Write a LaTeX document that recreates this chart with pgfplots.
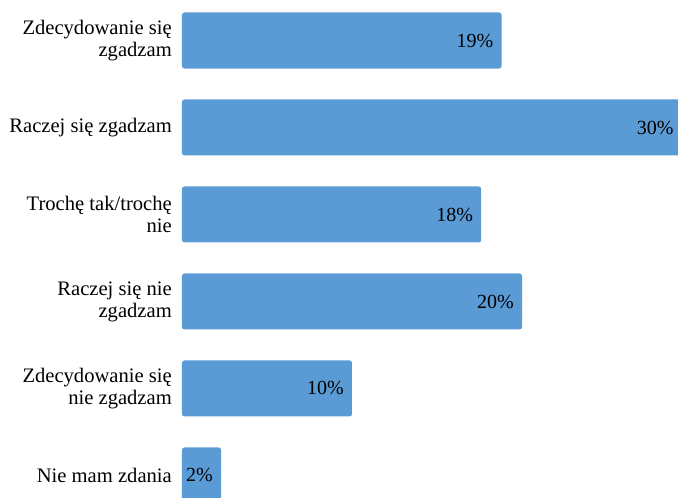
\documentclass[border=0pt]{standalone}
\usepackage{fontspec}
\setmainfont{Liberation Serif}
\newfontfamily\labelfont{Liberation Serif}
\usepackage{pgfplots}
\usepackage{pgfplotstable}
\pgfplotsset{compat=1.18}
\definecolor{barblue}{HTML}{5B9BD5}

% bar length, printed percentage, row
\pgfplotstableread{
val lab row
18.8 19 0
29.4 30 1
17.6 18 2
20.0 20 3
10.0 10 4
2.3  2  5
}\answers

\begin{document}
\begin{tikzpicture}
\begin{axis}[
    at={(0,0)}, anchor=south west,
    xbar,
    scale only axis,
    width=501.5bp, height=498bp,
    xmin=0, xmax=29.5,
    ymin=-0.4655, ymax=5.259,
    y dir=reverse,
    axis line style={draw=none},
    major tick length=0pt,
    xtick=\empty,
    ytick={0,1,2,3,4,5},
    yticklabels={{Zdecydowanie się\\zgadzam},{Raczej się zgadzam},{Trochę tak/trochę\\nie},{Raczej się nie\\zgadzam},{Zdecydowanie się\\nie zgadzam},{Nie mam zdania}},
    yticklabel style={align=right, inner sep=0pt, xshift=-10bp,
        font=\labelfont\fontsize{20.6bp}{22bp}\selectfont},
    bar width=56bp,
    point meta=explicit,
    /pgf/number format/assume math mode=true,
    nodes near coords={\pgfmathprintnumber[fixed,precision=0]{\pgfplotspointmeta}\%},
    every node near coord/.append style={anchor=east, xshift=-8bp, inner sep=0pt,
        font=\labelfont\fontsize{20bp}{22bp}\selectfont, text=black},
]
\addplot[fill=barblue, draw=none, rounded corners=2.5bp] table[x=val, y=row, meta=lab] {\answers};
\end{axis}
\pgfresetboundingbox
\path[use as bounding box] (-182bp,0) rectangle (496bp,498bp);
\end{tikzpicture}
\end{document}
